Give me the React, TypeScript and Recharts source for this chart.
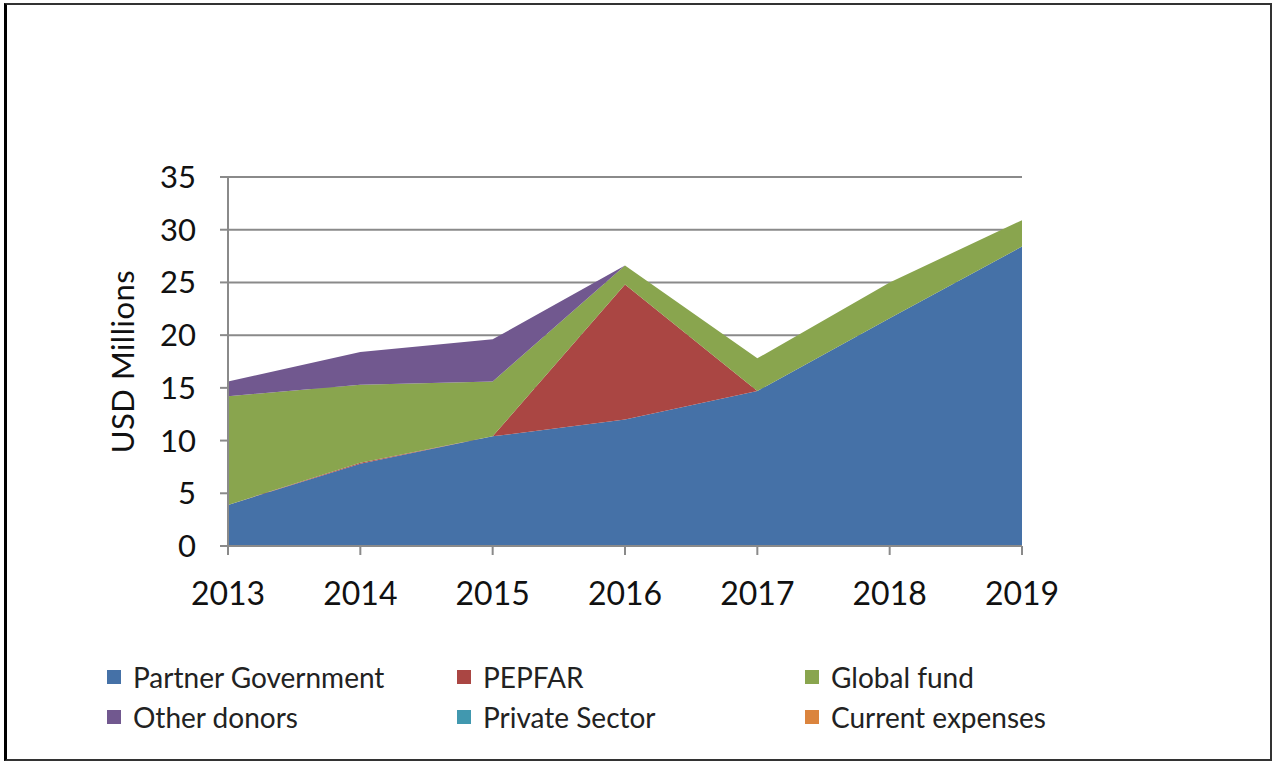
import { AreaChart, Area, XAxis, YAxis, CartesianGrid, Legend } from 'recharts';

const years = ['2013', '2014', '2015', '2016', '2017', '2018', '2019'];

// USD millions
const partnerGov = [3.9, 7.8, 10.4, 12.0, 14.7, 21.6, 28.4];
const pepfar = [0, 0.1, 0, 12.8, 0, 0, 0];
const globalFund = [10.3, 7.4, 5.2, 1.8, 3.1, 3.4, 2.5];
const otherDonors = [1.4, 3.1, 4.0, 0, 0, 0, 0];
const privateSector = [0, 0, 0, 0, 0, 0, 0];
const currentExpenses = [0, 0, 0, 0, 0, 0, 0];

const yTicks = [0, 5, 10, 15, 20, 25, 30, 35];

const SERIES = [
  { key: 'pg', name: 'Partner Government', color: '#4571A7', values: partnerGov },
  { key: 'pepfar', name: 'PEPFAR', color: '#AA4643', values: pepfar },
  { key: 'gf', name: 'Global fund', color: '#89A54E', values: globalFund },
  { key: 'od', name: 'Other donors', color: '#71588F', values: otherDonors },
  { key: 'ps', name: 'Private Sector', color: '#4198AF', values: privateSector },
  { key: 'ce', name: 'Current expenses', color: '#DB843D', values: currentExpenses },
];

const data = years.map((year, i) => {
  const row: Record<string, string | number> = { year };
  SERIES.forEach((s) => {
    row[s.key] = s.values[i];
  });
  return row;
});

const FONT = 'Lato, "Open Sans", sans-serif';

function LegendBlock() {
  const colLeft = [107, 457, 805];
  return (
    <div style={{ position: 'relative', width: 1100, height: 90, fontFamily: FONT }}>
      {SERIES.map((s, i) => (
        <div
          key={s.key}
          style={{
            position: 'absolute',
            left: colLeft[i % 3],
            top: i < 3 ? -2 : 38,
            display: 'flex',
            alignItems: 'center',
            fontSize: 28,
            color: '#222',
            whiteSpace: 'nowrap',
          }}
        >
          <span
            style={{
              display: 'inline-block',
              width: 14,
              height: 14,
              background: s.color,
              marginRight: 12,
            }}
          />
          {s.name}
        </div>
      ))}
    </div>
  );
}

export default function App() {
  return (
    <div style={{ position: 'fixed', left: 0, top: 0, width: 1274, height: 762, background: '#fff' }}>
      <div
        style={{
          position: 'absolute',
          left: 4,
          top: 3,
          width: 1268,
          height: 758,
          boxSizing: 'border-box',
          border: '2px solid #333',
          borderLeft: '3px solid #000',
        }}
      />
      <AreaChart
        width={1274}
        height={762}
        data={data}
        margin={{ top: 177, right: 252, bottom: 154, left: 108 }}
        style={{ position: 'absolute', left: 0, top: 0 }}
      >
        <CartesianGrid vertical={false} stroke="#8a8a8a" strokeWidth={2} />
        <XAxis
          dataKey="year"
          height={62}
          stroke="#8a8a8a"
          strokeWidth={2}
          tickSize={9}
          tick={{ fill: '#111', fontSize: 32, fontFamily: FONT, dy: 25 }}
          interval={0}
        />
        <YAxis
          domain={[0, 35]}
          ticks={yTicks}
          width={120}
          stroke="#8a8a8a"
          strokeWidth={2}
          tickSize={8}
          tick={{ fill: '#111', fontSize: 31, fontFamily: FONT, dx: -22 }}
          label={{
            value: 'USD Millions',
            angle: -90,
            position: 'insideLeft',
            offset: 15,
            style: { fill: '#111', fontSize: 31, fontFamily: FONT, textAnchor: 'middle', letterSpacing: 0.5 },
          }}
        />
        {SERIES.map((s) => (
          <Area
            key={s.key}
            type="linear"
            dataKey={s.key}
            name={s.name}
            stackId="1"
            fill={s.color}
            fillOpacity={1}
            stroke="none"
            isAnimationActive={false}
          />
        ))}
        <Legend
          verticalAlign="middle"
          align="center"
          layout="horizontal"
          wrapperStyle={{ position: 'absolute', left: 0, top: 662, width: 1100 }}
          content={() => <LegendBlock />}
        />
      </AreaChart>
    </div>
  );
}
